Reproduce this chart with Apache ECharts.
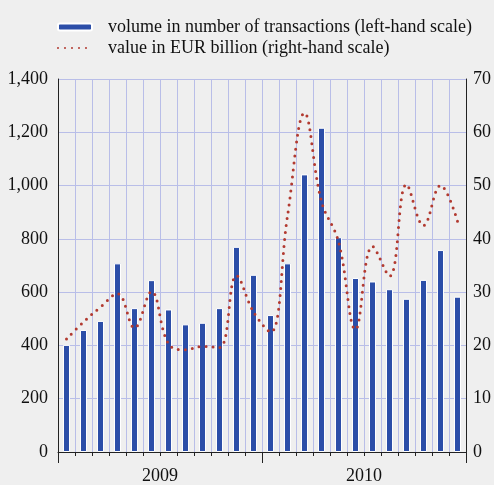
<!DOCTYPE html>
<html>
<head>
<meta charset="utf-8">
<script src="https://cdn.jsdelivr.net/npm/echarts@6/dist/echarts.min.js"></script>
<style>
  html, body { margin: 0; padding: 0; background: #efefef; }
  #chart { width: 494px; height: 485px; }
</style>
</head>
<body>
<div id="chart"></div>
<script>
// ========== 数据 ==========
const months = ['Jan 09','Feb 09','Mar 09','Apr 09','May 09','Jun 09','Jul 09','Aug 09','Sep 09','Oct 09','Nov 09','Dec 09',
                'Jan 10','Feb 10','Mar 10','Apr 10','May 10','Jun 10','Jul 10','Aug 10','Sep 10','Oct 10','Nov 10','Dec 10'];
const years = ['2009', '2010'];
const volume = [402, 458, 492, 708, 540, 645, 535, 479, 485, 540, 770, 665,
                514, 708, 1042, 1217, 806, 653, 640, 611, 575, 646, 758, 583];
const value = [21.2, 24.4, 27.2, 29.7, 23.3, 30.1, 20.3, 19.2, 19.8, 19.6, 33.1, 26.3,
               22.5, 44.3, 63.6, 47.0, 39.5, 23.0, 38.6, 33.0, 50.2, 42.5, 50.0, 43.3];
const leftTicks = [0, 1400, 200];
const rightTicks = [0, 70, 10];

const FONT = 'Liberation Serif';
const gridColor = '#b9bee8';
const volName = 'volume in number of transactions (left-hand scale)';
const valName = 'value in EUR billion (right-hand scale)';

const chart = echarts.init(document.getElementById('chart'));

chart.setOption({
    backgroundColor: '#efefef',
    animation: false,
    textStyle: { fontFamily: FONT, color: '#111' },
    legend: {
        orient: 'vertical',
        left: 52,
        top: 13,
        itemWidth: 34,
        itemHeight: 7,
        itemGap: 3,
        textStyle: { fontFamily: FONT, fontSize: 18, color: '#111', padding: [0, 0, 0, 11] },
        data: [
            { name: volName },
            { name: valName, itemStyle: { opacity: 0 } }
        ]
    },
    grid: { left: 58, right: 28, top: 79, bottom: 28, containLabel: false },
    xAxis: [
        {
            type: 'category',
            data: months,
            boundaryGap: true,
            offset: 1,
            axisLine: { lineStyle: { color: '#222', width: 1 } },
            axisTick: { show: true, interval: 0, length: 4, lineStyle: { color: '#222' } },
            axisLabel: { show: false },
            splitLine: { show: true, interval: 0, lineStyle: { color: gridColor, width: 1 } }
        },
        {
            type: 'category',
            data: years,
            position: 'bottom',
            boundaryGap: true,
            offset: 1,
            axisLine: { show: false },
            axisTick: { show: true, interval: 0, length: 11, lineStyle: { color: '#222' } },
            axisLabel: { fontFamily: FONT, fontSize: 18, color: '#111', margin: 14 },
            splitLine: { show: false }
        }
    ],
    yAxis: [
        {
            type: 'value',
            min: leftTicks[0],
            max: leftTicks[1],
            interval: leftTicks[2],
            axisLine: { show: true, lineStyle: { color: '#222' } },
            axisTick: { show: false },
            axisLabel: {
                fontFamily: FONT, fontSize: 18, color: '#111', margin: 10,
                formatter: v => v.toLocaleString('en-US')
            },
            splitLine: { show: true, lineStyle: { color: gridColor, width: 1 } }
        },
        {
            type: 'value',
            min: rightTicks[0],
            max: rightTicks[1],
            interval: rightTicks[2],
            position: 'right',
            axisLine: { show: true, lineStyle: { color: '#222' } },
            axisTick: { show: false },
            axisLabel: { fontFamily: FONT, fontSize: 18, color: '#111', margin: 7 },
            splitLine: { show: false }
        }
    ],
    series: [
        {
            name: volName,
            type: 'bar',
            xAxisIndex: 0,
            yAxisIndex: 0,
            data: volume,
            barWidth: 7,
            itemStyle: { color: '#2c4ea8', borderColor: '#ffffff', borderWidth: 1 }
        },
        {
            name: valName,
            type: 'line',
            xAxisIndex: 0,
            yAxisIndex: 1,
            data: value,
            smooth: 0.4,
            symbol: 'none',
            showSymbol: false,
            lineStyle: { color: '#b23a30', width: 3, type: [0, 7], cap: 'round' },
            itemStyle: { color: '#b23a30' }
        }
    ]
});
</script>
</body>
</html>
